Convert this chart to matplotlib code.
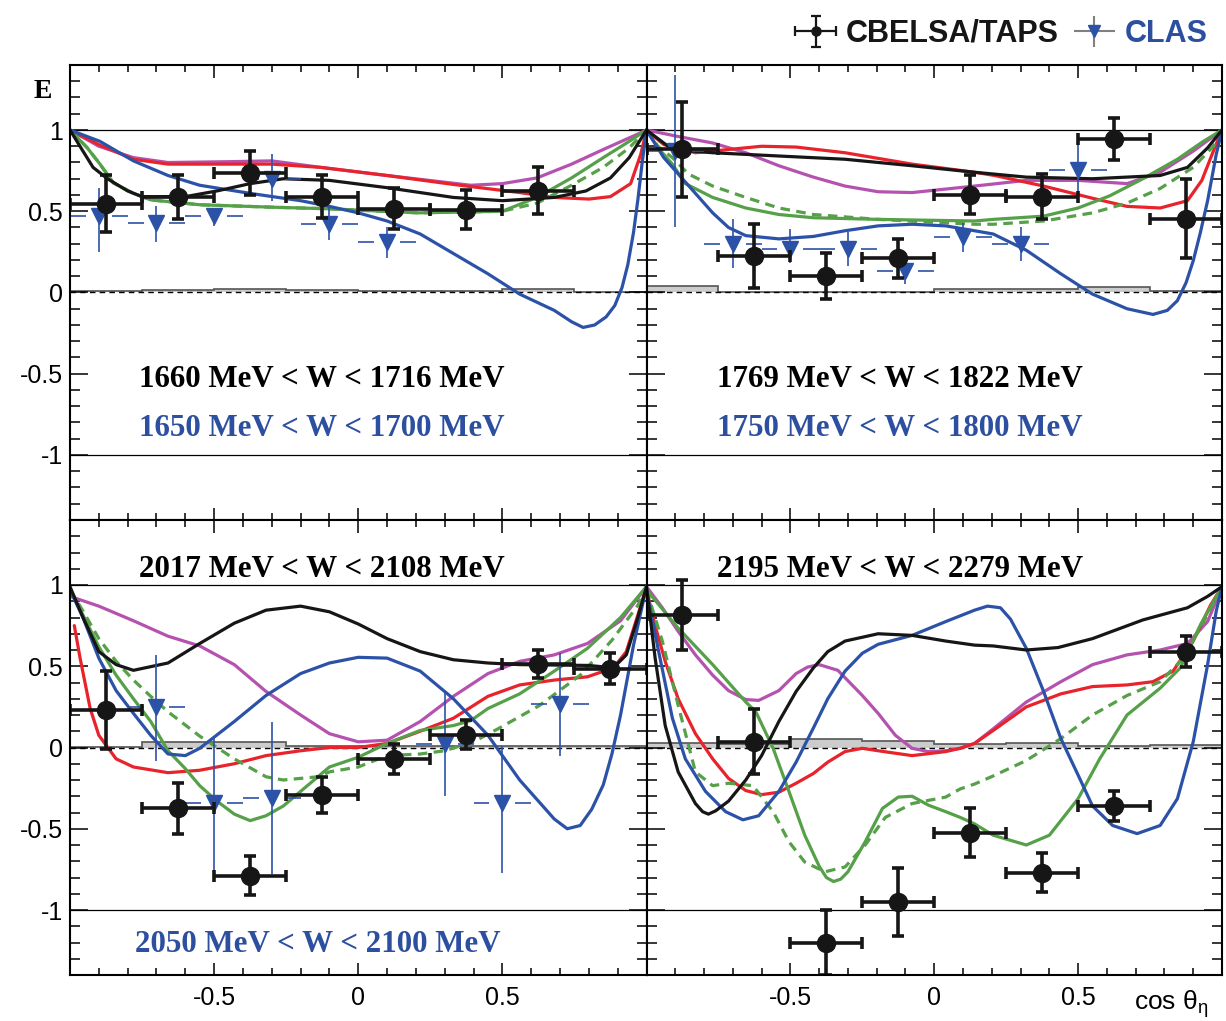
import numpy as np
import matplotlib
matplotlib.use("Agg")
import matplotlib.pyplot as plt
from matplotlib.ticker import MultipleLocator, FixedLocator
from matplotlib.container import ErrorbarContainer
from matplotlib.collections import LineCollection
from matplotlib.lines import Line2D
from matplotlib.legend_handler import HandlerErrorbar

plt.rcParams["mathtext.fontset"] = "custom"
plt.rcParams["mathtext.rm"] = "Liberation Sans"

# ---------------------------------------------------------------- data
BIN_EDGES = [-1.0, -0.75, -0.5, -0.25, 0.0, 0.25, 0.5, 0.75, 1.0]
CB_X = [-0.875, -0.625, -0.375, -0.125, 0.125, 0.375, 0.625, 0.875]
CB_XERR = 0.125
CLAS_XERR = 0.1

Y_TICKS = [-1, -0.5, 0, 0.5, 1]
Y_TICK_LABELS = ["-1", "-0.5", "0", "0.5", "1"]
X_TICKS = [-0.5, 0, 0.5]
X_TICK_LABELS = ["-0.5", "0", "0.5"]

# 1660 MeV < W < 1716 MeV
TL_CB_Y = [0.545, 0.585, 0.735, 0.59, 0.515, 0.51, 0.625]
TL_CB_ERR = [0.175, 0.135, 0.135, 0.13, 0.125, 0.12, 0.145]
TL_SYST = [0.012, 0.015, 0.022, 0.015, 0.01, 0.01, 0.02, 0.005]
TL_CLAS_X = [-0.9, -0.7, -0.5, -0.3, -0.1, 0.1]
TL_CLAS_Y = [0.47, 0.43, 0.47, 0.70, 0.42, 0.31]
TL_CLAS_LO = [0.22, 0.12, 0.06, 0.14, 0.10, 0.095]
TL_CLAS_HI = [0.17, 0.10, 0.05, 0.15, 0.11, 0.095]

TL_BLACK_X = [-1, -0.955, -0.92, -0.87, -0.8, -0.75, -0.6, -0.49, -0.375, -0.26, -0.1, 0.1, 0.33, 0.5, 0.68, 0.79, 0.875, 0.94, 1]
TL_BLACK_Y = [1, 0.87, 0.77, 0.70, 0.625, 0.59, 0.59, 0.625, 0.67, 0.70, 0.69, 0.645, 0.585, 0.565, 0.585, 0.625, 0.705, 0.83, 1]
TL_RED_X = [-1, -0.9, -0.78, -0.66, -0.5, -0.3, -0.13, 0.1, 0.33, 0.56, 0.68, 0.8, 0.875, 0.945, 0.98, 1]
TL_RED_Y = [1, 0.91, 0.82, 0.79, 0.79, 0.79, 0.77, 0.72, 0.665, 0.615, 0.585, 0.575, 0.59, 0.67, 0.85, 1]
TL_MAG_X = [-1, -0.9, -0.78, -0.66, -0.45, -0.3, -0.13, 0.1, 0.39, 0.5, 0.62, 0.74, 0.85, 0.97, 1]
TL_MAG_Y = [1, 0.90, 0.83, 0.80, 0.805, 0.81, 0.77, 0.72, 0.66, 0.67, 0.705, 0.79, 0.88, 0.975, 1]
TL_BLUE_X = [-1, -0.896, -0.78, -0.66, -0.55, -0.375, -0.2, -0.1, 0.0, 0.1, 0.215, 0.33, 0.45, 0.56, 0.68, 0.74, 0.78, 0.82, 0.86, 0.89, 0.915, 0.935, 0.955, 0.97, 0.985, 1]
TL_BLUE_Y = [1, 0.93, 0.81, 0.72, 0.66, 0.61, 0.565, 0.53, 0.49, 0.44, 0.36, 0.24, 0.115, -0.01, -0.11, -0.18, -0.215, -0.2, -0.15, -0.08, 0.03, 0.17, 0.37, 0.57, 0.8, 1]
TL_GRN_X = [-1, -0.94, -0.896, -0.85, -0.78, -0.72, -0.55, -0.3, -0.1, 0.21, 0.5, 0.62, 0.74, 0.85, 0.94, 1]
TL_GRN_Y = [1, 0.89, 0.79, 0.675, 0.61, 0.57, 0.54, 0.525, 0.515, 0.49, 0.50, 0.585, 0.705, 0.83, 0.93, 1]
TL_GRND_X = [-1, -0.94, -0.896, -0.85, -0.78, -0.72, -0.55, -0.3, -0.1, 0.21, 0.5, 0.62, 0.74, 0.85, 0.94, 1]
TL_GRND_Y = [1, 0.89, 0.79, 0.675, 0.61, 0.57, 0.54, 0.525, 0.515, 0.49, 0.50, 0.55, 0.66, 0.77, 0.89, 1]

# 1769 MeV < W < 1822 MeV
TR_CB_Y = [0.88, 0.225, 0.10, 0.21, 0.60, 0.59, 0.945, 0.455]
TR_CB_ERR = [0.29, 0.195, 0.14, 0.12, 0.12, 0.14, 0.13, 0.245]
TR_SYST = [0.04, 0.005, 0.005, 0.005, 0.02, 0.02, 0.035, 0.01]
TR_CLAS_X = [-0.9, -0.7, -0.5, -0.3, -0.1, 0.1, 0.3, 0.5]
TR_CLAS_Y = [0.87, 0.30, 0.27, 0.27, 0.135, 0.34, 0.30, 0.755]
TR_CLAS_LO = [0.47, 0.15, 0.09, 0.11, 0.08, 0.09, 0.105, 0.155]
TR_CLAS_HI = [0.47, 0.15, 0.12, 0.10, 0.065, 0.09, 0.105, 0.155]

TR_BLACK_X = [-1, -0.91, -0.77, -0.54, -0.31, -0.077, 0.14, 0.32, 0.55, 0.785, 0.88, 0.95, 1]
TR_BLACK_Y = [1, 0.88, 0.86, 0.84, 0.82, 0.78, 0.74, 0.71, 0.70, 0.72, 0.77, 0.89, 1]
TR_RED_X = [-1, -0.94, -0.83, -0.715, -0.6, -0.48, -0.31, -0.077, 0.14, 0.21, 0.38, 0.55, 0.67, 0.785, 0.88, 0.93, 0.97, 1]
TR_RED_Y = [1, 0.91, 0.86, 0.88, 0.90, 0.895, 0.86, 0.79, 0.74, 0.72, 0.655, 0.58, 0.53, 0.52, 0.565, 0.69, 0.87, 1]
TR_MAG_X = [-1, -0.89, -0.77, -0.655, -0.54, -0.42, -0.31, -0.195, -0.077, 0.14, 0.32, 0.5, 0.67, 0.785, 0.9, 1]
TR_MAG_Y = [1, 0.96, 0.92, 0.86, 0.78, 0.71, 0.655, 0.62, 0.615, 0.655, 0.69, 0.69, 0.67, 0.74, 0.87, 1]
TR_BLUE_X = [-1, -0.94, -0.89, -0.83, -0.77, -0.715, -0.655, -0.54, -0.42, -0.31, -0.195, -0.077, 0.04, 0.14, 0.205, 0.32, 0.44, 0.55, 0.67, 0.76, 0.81, 0.845, 0.875, 0.9, 0.925, 0.95, 0.98, 1]
TR_BLUE_Y = [1, 0.83, 0.73, 0.61, 0.49, 0.40, 0.35, 0.33, 0.345, 0.38, 0.41, 0.42, 0.41, 0.38, 0.36, 0.26, 0.115, -0.01, -0.10, -0.135, -0.11, -0.05, 0.06, 0.195, 0.37, 0.565, 0.85, 1]
TR_GRN_X = [-1, -0.96, -0.91, -0.865, -0.77, -0.655, -0.54, -0.42, -0.195, 0.14, 0.205, 0.38, 0.5, 0.61, 0.725, 0.845, 0.935, 1]
TR_GRN_Y = [1, 0.89, 0.79, 0.67, 0.585, 0.52, 0.48, 0.46, 0.45, 0.44, 0.45, 0.47, 0.52, 0.595, 0.70, 0.82, 0.93, 1]
TR_GRND_X = [-1, -0.96, -0.91, -0.855, -0.77, -0.655, -0.54, -0.42, -0.195, 0.14, 0.205, 0.38, 0.55, 0.67, 0.785, 0.9, 0.97, 1]
TR_GRND_Y = [1, 0.9, 0.83, 0.73, 0.655, 0.585, 0.52, 0.48, 0.45, 0.42, 0.42, 0.44, 0.49, 0.55, 0.64, 0.77, 0.9, 1]

# 2017 MeV < W < 2108 MeV
BL_CB_Y = [0.23, -0.375, -0.79, -0.29, -0.07, 0.08, 0.515, 0.485]
BL_CB_ERR = [0.24, 0.155, 0.12, 0.11, 0.09, 0.09, 0.085, 0.095]
BL_SYST = [0.005, 0.035, 0.035, 0.01, 0.01, 0.01, 0.01, 0.01]
BL_CLAS_X = [-0.7, -0.5, -0.3, 0.3, 0.5, 0.7]
BL_CLAS_Y = [0.25, -0.34, -0.31, 0.02, -0.34, 0.27]
BL_CLAS_LO = [0.33, 0.44, 0.47, 0.32, 0.43, 0.32]
BL_CLAS_HI = [0.32, 0.395, 0.465, 0.32, 0.35, 0.31]

BL_BLACK_X = [-1, -0.955, -0.9, -0.84, -0.78, -0.66, -0.55, -0.43, -0.32, -0.2, -0.1, 0.0, 0.1, 0.215, 0.33, 0.45, 0.56, 0.8, 0.885, 0.93, 0.97, 1]
BL_BLACK_Y = [0.99, 0.80, 0.59, 0.51, 0.475, 0.52, 0.64, 0.765, 0.845, 0.87, 0.835, 0.76, 0.67, 0.59, 0.54, 0.52, 0.51, 0.505, 0.49, 0.57, 0.80, 0.99]
BL_RED_X = [-0.985, -0.965, -0.93, -0.9, -0.84, -0.78, -0.66, -0.55, -0.43, -0.32, -0.2, -0.1, 0.0, 0.1, 0.215, 0.33, 0.45, 0.56, 0.68, 0.795, 0.885, 0.93, 0.97, 1]
BL_RED_Y = [0.75, 0.55, 0.24, 0.075, -0.07, -0.12, -0.155, -0.14, -0.10, -0.05, -0.02, 0.0, 0.0, 0.025, 0.10, 0.18, 0.315, 0.385, 0.415, 0.435, 0.49, 0.59, 0.815, 0.99]
BL_MAG_X = [-1, -0.9, -0.78, -0.66, -0.55, -0.43, -0.32, -0.2, -0.1, 0.0, 0.1, 0.215, 0.33, 0.45, 0.56, 0.68, 0.795, 0.91, 1]
BL_MAG_Y = [0.93, 0.87, 0.78, 0.685, 0.625, 0.51, 0.345, 0.20, 0.085, 0.035, 0.045, 0.16, 0.315, 0.455, 0.53, 0.57, 0.64, 0.78, 0.99]
BL_BLUE_X = [-1, -0.955, -0.9, -0.84, -0.78, -0.72, -0.66, -0.6, -0.55, -0.43, -0.32, -0.2, -0.1, 0.0, 0.1, 0.215, 0.33, 0.45, 0.56, 0.68, 0.725, 0.77, 0.81, 0.85, 0.88, 0.91, 0.955, 1]
BL_BLUE_Y = [0.97, 0.80, 0.55, 0.35, 0.21, 0.075, -0.04, -0.05, -0.005, 0.16, 0.32, 0.455, 0.52, 0.555, 0.55, 0.47, 0.30, 0.075, -0.20, -0.44, -0.50, -0.48, -0.38, -0.23, -0.04, 0.20, 0.63, 0.99]
BL_GRN_X = [-1, -0.955, -0.9, -0.84, -0.78, -0.72, -0.66, -0.6, -0.55, -0.49, -0.43, -0.375, -0.32, -0.26, -0.2, -0.1, 0.0, 0.1, 0.215, 0.33, 0.39, 0.45, 0.56, 0.68, 0.795, 0.91, 1]
BL_GRN_Y = [0.97, 0.815, 0.62, 0.445, 0.30, 0.16, -0.02, -0.13, -0.235, -0.33, -0.41, -0.45, -0.42, -0.36, -0.27, -0.12, -0.06, 0.025, 0.105, 0.135, 0.165, 0.24, 0.33, 0.47, 0.61, 0.80, 0.99]
BL_GRND_X = [-1, -0.955, -0.9, -0.84, -0.78, -0.72, -0.66, -0.55, -0.43, -0.32, -0.26, -0.14, -0.1, 0.0, 0.1, 0.215, 0.3, 0.4, 0.49, 0.63, 0.77, 0.88, 0.97, 1]
BL_GRND_Y = [0.97, 0.84, 0.67, 0.53, 0.415, 0.315, 0.22, 0.07, -0.07, -0.18, -0.20, -0.18, -0.15, -0.12, -0.05, -0.04, -0.02, 0.035, 0.12, 0.26, 0.445, 0.66, 0.875, 0.99]

# 2195 MeV < W < 2279 MeV
BR_CB_Y = [0.815, 0.035, -1.2, -0.95, -0.525, -0.77, -0.36, 0.59]
BR_CB_ERR = [0.215, 0.2, 0.2, 0.21, 0.15, 0.12, 0.09, 0.095]
BR_SYST = [0.03, 0.02, 0.05, 0.04, 0.02, 0.03, 0.01, 0.015]

BR_BLACK_X = [-1, -0.97, -0.935, -0.89, -0.83, -0.805, -0.785, -0.76, -0.715, -0.655, -0.6, -0.54, -0.48, -0.42, -0.37, -0.31, -0.195, -0.077, 0.04, 0.14, 0.205, 0.32, 0.43, 0.55, 0.725, 0.88, 0.95, 1]
BR_BLACK_Y = [0.99, 0.55, 0.135, -0.15, -0.345, -0.395, -0.41, -0.39, -0.33, -0.20, -0.05, 0.16, 0.345, 0.49, 0.59, 0.655, 0.70, 0.69, 0.655, 0.63, 0.625, 0.60, 0.615, 0.67, 0.785, 0.86, 0.93, 0.99]
BR_RED_X = [-1, -0.97, -0.935, -0.89, -0.83, -0.77, -0.715, -0.655, -0.6, -0.54, -0.48, -0.42, -0.37, -0.31, -0.25, -0.195, -0.077, 0.04, 0.09, 0.14, 0.205, 0.32, 0.44, 0.55, 0.67, 0.76, 0.83, 0.9, 0.96, 1]
BR_RED_Y = [0.97, 0.75, 0.53, 0.30, 0.085, -0.07, -0.19, -0.265, -0.29, -0.275, -0.22, -0.16, -0.09, -0.025, -0.005, -0.02, -0.05, -0.025, -0.005, 0.025, 0.105, 0.25, 0.33, 0.375, 0.385, 0.405, 0.47, 0.655, 0.875, 0.99]
BR_MAG_X = [-1, -0.945, -0.89, -0.83, -0.77, -0.715, -0.655, -0.61, -0.54, -0.48, -0.44, -0.40, -0.335, -0.25, -0.195, -0.135, -0.077, -0.02, 0.04, 0.09, 0.14, 0.205, 0.32, 0.44, 0.55, 0.67, 0.785, 0.88, 0.95, 1]
BR_MAG_Y = [0.99, 0.86, 0.715, 0.57, 0.445, 0.35, 0.295, 0.29, 0.35, 0.455, 0.495, 0.51, 0.475, 0.32, 0.21, 0.075, -0.005, -0.025, -0.02, -0.005, 0.025, 0.115, 0.28, 0.405, 0.51, 0.57, 0.60, 0.64, 0.775, 0.99]
BR_BLUE_X = [-1, -0.96, -0.91, -0.865, -0.795, -0.725, -0.665, -0.61, -0.54, -0.48, -0.42, -0.37, -0.31, -0.25, -0.195, -0.077, 0.04, 0.14, 0.185, 0.23, 0.265, 0.32, 0.38, 0.44, 0.5, 0.55, 0.62, 0.705, 0.785, 0.845, 0.9, 0.95, 0.98, 1]
BR_BLUE_Y = [0.97, 0.61, 0.18, -0.07, -0.27, -0.395, -0.445, -0.42, -0.27, -0.09, 0.12, 0.30, 0.47, 0.58, 0.635, 0.69, 0.775, 0.845, 0.87, 0.86, 0.79, 0.61, 0.345, 0.055, -0.17, -0.36, -0.48, -0.53, -0.48, -0.315, 0.035, 0.51, 0.84, 0.99]
BR_GRN_X = [-1, -0.89, -0.77, -0.655, -0.62, -0.56, -0.505, -0.45, -0.40, -0.375, -0.35, -0.325, -0.30, -0.24, -0.18, -0.125, -0.077, -0.02, 0.04, 0.09, 0.14, 0.205, 0.32, 0.40, 0.5, 0.575, 0.67, 0.785, 0.855, 0.925, 1]
BR_GRN_Y = [0.97, 0.735, 0.51, 0.28, 0.22, -0.005, -0.27, -0.54, -0.73, -0.80, -0.825, -0.81, -0.765, -0.58, -0.375, -0.305, -0.30, -0.355, -0.395, -0.43, -0.47, -0.54, -0.60, -0.54, -0.315, -0.07, 0.20, 0.365, 0.49, 0.755, 0.99]
BR_GRND_X = [-1, -0.945, -0.89, -0.83, -0.77, -0.715, -0.63, -0.56, -0.505, -0.45, -0.38, -0.31, -0.24, -0.17, -0.077, 0.04, 0.09, 0.14, 0.205, 0.32, 0.44, 0.55, 0.67, 0.785, 0.855, 0.925, 1]
BR_GRND_Y = [0.97, 0.655, 0.26, -0.15, -0.235, -0.22, -0.235, -0.395, -0.58, -0.705, -0.765, -0.735, -0.60, -0.43, -0.345, -0.305, -0.255, -0.225, -0.175, -0.08, 0.055, 0.20, 0.32, 0.405, 0.53, 0.735, 0.99]

TL_LABELS = ["1660 MeV < W < 1716 MeV", "1650 MeV < W < 1700 MeV"]
TR_LABELS = ["1769 MeV < W < 1822 MeV", "1750 MeV < W < 1800 MeV"]
BL_LABELS = ["2017 MeV < W < 2108 MeV", "2050 MeV < W < 2100 MeV"]
BR_LABELS = ["2195 MeV < W < 2279 MeV"]

# ---------------------------------------------------------------- style
BLACK = "#161616"
RED = "#E8232B"
MAG = "#B552B0"
BLUE = "#2C52A8"
GREEN = "#55A048"
TEXT_BLUE = "#2D4FA0"
SERIF = "Liberation Serif"
SANS = "Liberation Sans"

W, H = 1226, 1021
fig = plt.figure(figsize=(W / 100, H / 100), dpi=100)


def add_panel(x0, x1, y0, y1):
    return fig.add_axes([x0 / W, 1 - y1 / H, (x1 - x0) / W, (y1 - y0) / H])


def draw_panel(ax, curves, cb_y, cb_err, syst, clas=None, show_x=False, show_y=False):
    ax.set_xlim(-1, 1)
    ax.set_ylim(-1.4, 1.4)
    for s in ax.spines.values():
        s.set_linewidth(1.5)
        s.set_zorder(10)
    for yl in (1, -1):
        ax.axhline(yl, color="k", lw=0.9, zorder=1)
    ax.stairs(syst, BIN_EDGES, baseline=0, fill=True, color="#cccccc", zorder=1)
    ax.stairs(syst, BIN_EDGES, baseline=0, color="#555555", lw=1.2, zorder=1.1)
    ax.axhline(0, color="k", lw=1.0, ls=(0, (4, 3)), zorder=1.5)

    for xs, ys, color, ls in curves:
        ax.plot(xs, ys, color=color, lw=2.3, ls=ls, zorder=2,
                solid_capstyle="round", solid_joinstyle="round")

    if clas is not None:
        cx, cy, clo, chi = clas
        cx = np.asarray(cx)
        cy = np.asarray(cy)
        ax.errorbar(cx, cy, yerr=[clo, chi], fmt="v", color=BLUE, ms=11.5,
                    elinewidth=1.2, capsize=0, zorder=4)
        gap = 0.045
        ax.hlines(cy, cx - CLAS_XERR, cx - gap, color=BLUE, lw=1.2, zorder=4)
        ax.hlines(cy, cx + gap, cx + CLAS_XERR, color=BLUE, lw=1.2, zorder=4)

    n = len(cb_y)
    ax.errorbar(CB_X[:n], cb_y, xerr=CB_XERR, yerr=cb_err, fmt="o", color=BLACK,
                ms=13, elinewidth=2.6, capsize=4.5, capthick=2.6, zorder=5,
                clip_on=True)

    ax.xaxis.set_major_locator(FixedLocator(X_TICKS))
    ax.xaxis.set_minor_locator(MultipleLocator(0.1))
    ax.yaxis.set_major_locator(FixedLocator(Y_TICKS))
    ax.yaxis.set_minor_locator(MultipleLocator(0.1))
    ax.tick_params(axis="both", which="both", direction="in", top=True, right=True,
                   width=1.1, labelsize=18)
    ax.tick_params(axis="x", which="major", length=9, pad=8)
    ax.tick_params(axis="x", which="minor", length=5)
    ax.tick_params(axis="y", which="major", length=13, pad=5)
    ax.tick_params(axis="y", which="minor", length=7)
    if show_x:
        ax.set_xticklabels(X_TICK_LABELS, family=SANS)
    else:
        ax.set_xticklabels([])
    if show_y:
        ax.set_yticklabels(Y_TICK_LABELS, family=SANS)
    else:
        ax.set_yticklabels([])


def curve_set(bx, by, rx, ry, mx, my, ux, uy, gx, gy, dx, dy):
    return [
        (mx, my, MAG, "-"),
        (rx, ry, RED, "-"),
        (dx, dy, GREEN, (0, (3, 2))),
        (gx, gy, GREEN, "-"),
        (ux, uy, BLUE, "-"),
        (bx, by, BLACK, "-"),
    ]


XL0, XMID, XR1 = 70, 646.5, 1222
YT0, YMID, YB1 = 65, 520, 975

ax_tl = add_panel(XL0, XMID, YT0, YMID)
ax_tr = add_panel(XMID, XR1, YT0, YMID)
ax_bl = add_panel(XL0, XMID, YMID, YB1)
ax_br = add_panel(XMID, XR1, YMID, YB1)

draw_panel(ax_tl,
           curve_set(TL_BLACK_X, TL_BLACK_Y, TL_RED_X, TL_RED_Y, TL_MAG_X, TL_MAG_Y,
                     TL_BLUE_X, TL_BLUE_Y, TL_GRN_X, TL_GRN_Y, TL_GRND_X, TL_GRND_Y),
           TL_CB_Y, TL_CB_ERR, TL_SYST,
           clas=(TL_CLAS_X, TL_CLAS_Y, TL_CLAS_LO, TL_CLAS_HI), show_y=True)
draw_panel(ax_tr,
           curve_set(TR_BLACK_X, TR_BLACK_Y, TR_RED_X, TR_RED_Y, TR_MAG_X, TR_MAG_Y,
                     TR_BLUE_X, TR_BLUE_Y, TR_GRN_X, TR_GRN_Y, TR_GRND_X, TR_GRND_Y),
           TR_CB_Y, TR_CB_ERR, TR_SYST,
           clas=(TR_CLAS_X, TR_CLAS_Y, TR_CLAS_LO, TR_CLAS_HI))
draw_panel(ax_bl,
           curve_set(BL_BLACK_X, BL_BLACK_Y, BL_RED_X, BL_RED_Y, BL_MAG_X, BL_MAG_Y,
                     BL_BLUE_X, BL_BLUE_Y, BL_GRN_X, BL_GRN_Y, BL_GRND_X, BL_GRND_Y),
           BL_CB_Y, BL_CB_ERR, BL_SYST,
           clas=(BL_CLAS_X, BL_CLAS_Y, BL_CLAS_LO, BL_CLAS_HI), show_x=True, show_y=True)
draw_panel(ax_br,
           curve_set(BR_BLACK_X, BR_BLACK_Y, BR_RED_X, BR_RED_Y, BR_MAG_X, BR_MAG_Y,
                     BR_BLUE_X, BR_BLUE_Y, BR_GRN_X, BR_GRN_Y, BR_GRND_X, BR_GRND_Y),
           BR_CB_Y, BR_CB_ERR, BR_SYST, show_x=True)

# energy-bin labels
lab_kw = dict(ha="center", va="center", family=SERIF, weight="bold", size=22.3)
ax_tl.text(-0.125, -0.535, TL_LABELS[0], color="black", **lab_kw)
ax_tl.text(-0.125, -0.84, TL_LABELS[1], color=TEXT_BLUE, **lab_kw)
ax_tr.text(-0.12, -0.535, TR_LABELS[0], color="black", **lab_kw)
ax_tr.text(-0.12, -0.84, TR_LABELS[1], color=TEXT_BLUE, **lab_kw)
ax_bl.text(-0.125, 1.095, BL_LABELS[0], color="black", **lab_kw)
ax_bl.text(-0.14, -1.21, BL_LABELS[1], color=TEXT_BLUE, **lab_kw)
ax_br.text(-0.12, 1.095, BR_LABELS[0], color="black", **lab_kw)

fig.text(43 / W, 1 - 91 / H, "E", ha="center", va="center", family=SERIF,
         weight="bold", size=20)
fig.text(1171 / W, 1 - 1004 / H, r"cos $\mathrm{\theta_{\eta}}$", ha="center",
         va="center", family=SANS, size=19)

# legend
cb_handle = ErrorbarContainer(
    (Line2D([], [], marker="o", color=BLACK, ms=6.5, ls="none"),
     (Line2D([], [], color=BLACK, ms=7, mew=1.6),),
     (LineCollection([], colors=BLACK, linewidths=1.6),)),
    has_xerr=True, has_yerr=True)
clas_handle = ErrorbarContainer(
    (Line2D([], [], marker="v", color=BLUE, ms=9, ls="none"),
     (),
     (LineCollection([], colors="#808080", linewidths=1.5),)),
    has_xerr=True, has_yerr=True)
leg = fig.legend([cb_handle, clas_handle], ["CBELSA/TAPS", "CLAS"],
                 loc="center right", bbox_to_anchor=(1214 / W, 1 - 34 / H),
                 ncol=2, frameon=False,
                 prop=dict(family=SANS, weight="bold", size=22),
                 handlelength=1.5, handletextpad=0.25, columnspacing=0.4,
                 borderpad=0.2, borderaxespad=0.0,
                 handler_map={ErrorbarContainer: HandlerErrorbar(xerr_size=0.68, yerr_size=0.5)})
leg.get_texts()[0].set_color(BLACK)
leg.get_texts()[1].set_color(TEXT_BLUE)

fig.savefig("out.png", dpi=100)
